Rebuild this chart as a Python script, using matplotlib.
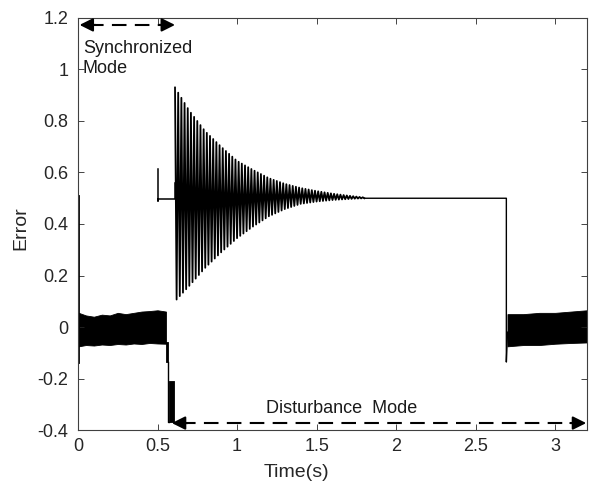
import numpy as np
import matplotlib
matplotlib.use('Agg')
import matplotlib.pyplot as plt

plt.rcParams['font.family'] = ['Liberation Sans', 'DejaVu Sans']

# noise band during synchronized mode (upper / lower edge)
sync_t = [0.005, 0.05, 0.1, 0.15, 0.2, 0.25, 0.3, 0.35, 0.4, 0.45, 0.5, 0.553]
sync_hi = [0.055, 0.045, 0.040, 0.048, 0.045, 0.055, 0.050, 0.055, 0.060, 0.062, 0.065, 0.060]
sync_lo = [-0.075, -0.070, -0.072, -0.068, -0.070, -0.066, -0.068, -0.064, -0.066, -0.062, -0.064, -0.065]

# noise band after the disturbance is removed
dist_t = [2.70, 2.80, 2.90, 3.00, 3.10, 3.20]
dist_hi = [0.050, 0.050, 0.055, 0.055, 0.060, 0.065]
dist_lo = [-0.075, -0.070, -0.070, -0.065, -0.062, -0.060]

# start-up spike at t=0
spike_t = [0.004, 0.004]
spike_y = [-0.14, 0.51]

# switching transient: two short blocks and the connecting line
step1_t, step1_hi, step1_lo = [0.553, 0.567], [-0.06, -0.06], [-0.136, -0.136]
step2_t, step2_hi, step2_lo = [0.570, 0.605], [-0.21, -0.21], [-0.37, -0.37]
drop_t = [0.567, 0.567, 0.572]
drop_y = [-0.136, -0.37, -0.37]

# short line at 0.5 before the oscillation
hold0_t = [0.502, 0.502, 0.502, 0.610, 0.610]
hold0_y = [0.615, 0.488, 0.497, 0.497, 0.56]

# envelope of the decaying oscillation
osc_t = [0.61, 0.70, 0.80, 0.90, 1.00, 1.10, 1.20, 1.30, 1.40, 1.50, 1.60, 1.70, 1.80]
osc_hi = [0.93, 0.84, 0.76, 0.70, 0.645, 0.61, 0.578, 0.556, 0.540, 0.528, 0.518, 0.510, 0.503]
osc_lo = [0.10, 0.16, 0.23, 0.29, 0.345, 0.39, 0.430, 0.458, 0.478, 0.487, 0.493, 0.497, 0.500]
half_period = 0.01

# flat error at 0.5 until the disturbance ends, then the drop
hold_t = [1.80, 2.693, 2.693, 2.700]
hold_y = [0.50, 0.50, -0.136, -0.02]

fig = plt.figure(figsize=(5.89, 4.86), dpi=100)
ax = fig.add_axes([0.1324, 0.1152, 0.8642, 0.8478])

ax.fill_between(sync_t, sync_lo, sync_hi, color='k', lw=0.6)
ax.fill_between(dist_t, dist_lo, dist_hi, color='k', lw=0.6)
ax.plot(spike_t, spike_y, color='k', lw=1.3)
ax.fill_between(step1_t, step1_lo, step1_hi, color='k', lw=0.6)
ax.fill_between(step2_t, step2_lo, step2_hi, color='k', lw=0.6)
ax.plot(drop_t, drop_y, color='k', lw=1.0)
ax.plot(hold0_t, hold0_y, color='k', lw=1.1)

# zig-zag between the read envelope edges
n = int(round((osc_t[-1] - osc_t[0]) / half_period))
zt = osc_t[0] + half_period * np.arange(n + 1)
hi = np.interp(zt, osc_t, osc_hi)
lo = np.interp(zt, osc_t, osc_lo)
zy = np.where(np.arange(n + 1) % 2 == 0, hi, lo)
ax.plot(zt, zy, color='k', lw=1.3)
ax.plot(hold_t, hold_y, color='k', lw=1.0)

# mode arrows
def dashed_arrow(x0, x1, y):
    ax.plot([x0 + 0.06, x1 - 0.06], [y, y], color='k', lw=1.5, dashes=(7, 4))
    for a, b in ((x0 + 0.1, x0), (x1 - 0.1, x1)):
        ax.annotate('', xy=(b, y), xytext=(a, y),
                    arrowprops=dict(arrowstyle='-|>', color='k', lw=1.5,
                                    mutation_scale=20, shrinkA=0, shrinkB=0))

dashed_arrow(0.01, 0.61, 1.173)
dashed_arrow(0.59, 3.195, -0.373)
ax.text(0.03, 1.043, 'Synchronized\nMode', fontsize=13, ha='left', va='center',
        linespacing=1.2, color='#1a1a1a')
ax.text(1.66, -0.315, 'Disturbance  Mode', fontsize=13, ha='center', va='center',
        color='#1a1a1a')

ax.set_xlim(0, 3.2)
ax.set_ylim(-0.4, 1.2)
ax.set_xticks([0, 0.5, 1, 1.5, 2, 2.5, 3])
ax.set_xticklabels(['0', '0.5', '1', '1.5', '2', '2.5', '3'])
ax.set_yticks([-0.4, -0.2, 0, 0.2, 0.4, 0.6, 0.8, 1, 1.2])
ax.set_yticklabels(['-0.4', '-0.2', '0', '0.2', '0.4', '0.6', '0.8', '1', '1.2'])
ax.tick_params(direction='in', top=True, right=True, length=4, width=0.6,
               labelsize=13, colors='#262626')
ax.tick_params(axis='y', pad=7)
ax.tick_params(axis='x', pad=6)
for s in ax.spines.values():
    s.set_color('#404040')
    s.set_linewidth(0.8)
ax.set_xlabel('Time(s)', fontsize=14, color='#262626')
ax.set_ylabel('Error', fontsize=14, color='#262626')
ax.xaxis.set_label_coords(0.43, -0.083)
ax.yaxis.set_label_coords(-0.095, 0.49)

fig.savefig('out.png', dpi=100)
